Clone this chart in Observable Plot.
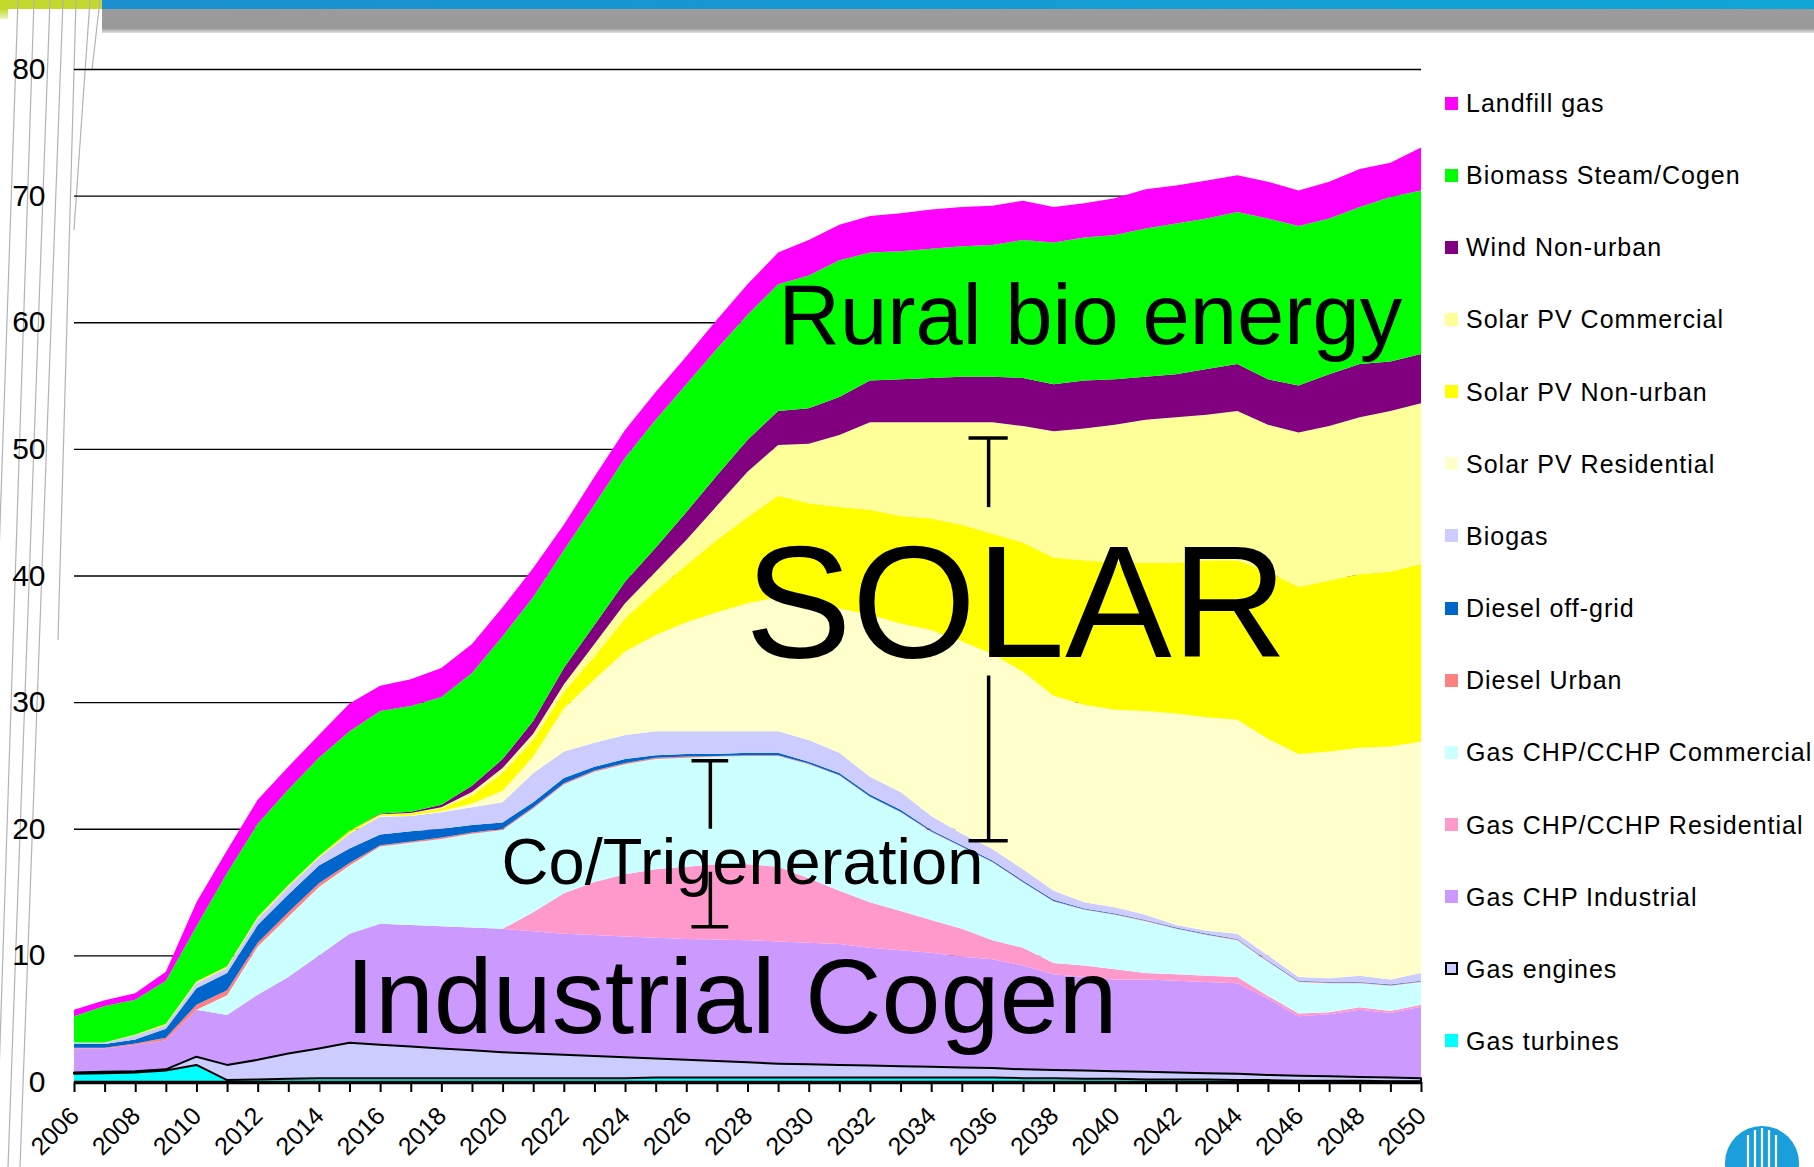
<!DOCTYPE html>
<html><head><meta charset="utf-8">
<script src="https://cdn.jsdelivr.net/npm/d3@7"></script>
<script src="https://cdn.jsdelivr.net/npm/@observablehq/plot@0.6"></script>
<style>
body{margin:0;background:#fff;}
#wrap{position:relative;width:1814px;height:1167px;overflow:hidden;background:#fff;font-family:"Liberation Sans",Arial,sans-serif;}
#deco{position:absolute;left:0;top:0;}
#chart{position:absolute;left:0;top:0;}
#legend{position:absolute;left:0;top:0;}
.item{position:absolute;left:1445px;height:30px;line-height:30px;font-size:25px;white-space:nowrap;color:#000;}
.sw{position:absolute;left:0;top:8.5px;width:13px;height:13px;box-sizing:border-box;}
.lab{position:absolute;left:21px;top:0;letter-spacing:1px;}
</style></head>
<body><div id="wrap">
<svg id="deco" width="1814" height="1167">
  <defs>
    <linearGradient id="blue" x1="0" x2="1" y1="0" y2="0"><stop offset="0" stop-color="#1b8fd0"/><stop offset="1" stop-color="#0fa6d6"/></linearGradient>
    <linearGradient id="grey" x1="0" x2="0" y1="0" y2="1"><stop offset="0" stop-color="#9c9c9c"/><stop offset="0.8" stop-color="#999"/><stop offset="1" stop-color="#e2e2e2"/></linearGradient>
    <linearGradient id="lime" x1="0" x2="0" y1="0" y2="1"><stop offset="0" stop-color="#c4da2c"/><stop offset="1" stop-color="#eef5c0"/></linearGradient>
    <clipPath id="logoclip"><circle cx="1762" cy="1163" r="37"/></clipPath>
  </defs>
  <rect x="102" y="0" width="1712" height="9" fill="url(#blue)"/>
  <rect x="102" y="9" width="1712" height="24" fill="url(#grey)"/>
  <rect x="0" y="0" width="102" height="9" fill="#c3d92b"/>
  <rect x="0" y="9" width="8" height="10" fill="url(#lime)"/>
  <g stroke="#b3b3b3" stroke-width="1.2" fill="none">
    <line x1="18" y1="0" x2="-22" y2="1167"/>
    <line x1="34" y1="0" x2="-4" y2="1167"/>
    <line x1="50" y1="0" x2="8" y2="1167"/>
    <line x1="63" y1="0" x2="20" y2="1167"/>
    <line x1="76" y1="0" x2="58" y2="640"/>
    <line x1="90" y1="0" x2="74" y2="230"/>
    <line x1="100" y1="0" x2="92" y2="70"/>
  </g>
  <circle cx="1762" cy="1163" r="37" fill="#1a9fdb"/>
  <g clip-path="url(#logoclip)" stroke="#fff" stroke-width="2.2">
    <line x1="1748" y1="1135" x2="1748" y2="1200"/>
    <line x1="1755" y1="1130" x2="1755" y2="1200"/>
    <line x1="1762" y1="1128" x2="1762" y2="1200"/>
    <line x1="1769" y1="1130" x2="1769" y2="1200"/>
    <line x1="1776" y1="1135" x2="1776" y2="1200"/>
  </g>
</svg>
<div id="chart"></div>
<div id="legend"></div>
</div>
<script>
// ---- data ----
const years = [2006,2007,2008,2009,2010,2011,2012,2013,2014,2015,2016,2017,2018,2019,2020,2021,2022,2023,2024,2025,2026,2027,2028,2029,2030,2031,2032,2033,2034,2035,2036,2037,2038,2039,2040,2041,2042,2043,2044,2045,2046,2047,2048,2049,2050];

// stacking order: bottom to top
const seriesNames = ["Gas turbines","Gas engines","Gas CHP Industrial","Gas CHP/CCHP Residential","Gas CHP/CCHP Commercial","Diesel Urban","Diesel off-grid","Biogas","Solar PV Residential","Solar PV Non-urban","Solar PV Commercial","Wind Non-urban","Biomass Steam/Cogen","Landfill gas"];
const seriesColors = ["#00ffff","#ccccff","#cc99ff","#ff99cc","#ccffff","#ff8080","#0066cc","#ccccff","#ffffcc","#ffff00","#ffff99","#800080","#00ff00","#ff00ff"];

const gasTurbines = [0.65,0.7,0.75,0.9,1.35,0.15,0.2,0.25,0.3,0.3,0.3,0.3,0.3,0.3,0.3,0.3,0.3,0.3,0.3,0.35,0.35,0.35,0.35,0.35,0.35,0.35,0.35,0.35,0.35,0.35,0.35,0.3,0.3,0.25,0.25,0.2,0.2,0.2,0.15,0.15,0.1,0.1,0.1,0.05,0.05];
const gasEngines = [0.1,0.1,0.1,0.1,0.65,1.2,1.55,2.0,2.35,2.8,2.65,2.5,2.35,2.2,2.05,1.95,1.85,1.75,1.65,1.5,1.4,1.3,1.2,1.1,1.05,1.0,0.95,0.9,0.85,0.8,0.75,0.7,0.65,0.65,0.6,0.6,0.55,0.5,0.5,0.4,0.4,0.35,0.3,0.3,0.25];
const gasChpIndustrial = [1.9,1.85,2.1,2.3,3.7,3.95,5.15,6.05,7.35,8.6,9.55,9.6,9.65,9.7,9.75,9.65,9.55,9.55,9.55,9.55,9.55,9.6,9.65,9.65,9.6,9.55,9.3,9.15,9.0,8.75,8.6,8.2,7.55,7.4,7.25,7.3,7.25,7.2,7.15,6.05,4.7,4.9,5.3,5.1,5.65];
const gasChpResidential = [0,0,0,0,0,0,0,0,0,0,0,0,0,0,0,1.5,3.2,4.2,4.9,5.4,5.7,5.95,6.0,5.9,5.1,4.2,3.6,3.1,2.6,2.2,1.5,1.4,0.9,0.9,0.8,0.5,0.5,0.5,0.5,0.2,0.2,0.15,0.2,0.15,0.15];
const gasChpCommercial = [0,0,0,0,0,1.55,3.8,4.75,5.4,5.4,6.1,6.5,6.9,7.4,7.8,8.2,8.6,8.7,8.7,8.7,8.6,8.5,8.55,8.75,9.0,9.1,8.3,7.8,6.95,6.45,6.15,5.15,4.85,4.4,4.3,4.1,3.6,3.2,2.9,2.7,2.5,2.3,1.9,2.0,1.8];
const dieselUrban = [0.05,0.05,0.1,0.2,0.4,0.4,0.3,0.35,0.3,0.2,0.1,0.1,0.1,0.1,0.1,0.1,0.1,0.1,0.1,0.1,0.1,0.05,0.05,0.05,0.05,0.05,0.05,0.05,0.05,0.05,0.05,0.05,0.05,0.05,0.05,0.05,0.05,0.05,0.05,0.05,0.05,0.05,0.05,0.05,0.05];
const dieselOffGrid = [0.3,0.3,0.3,0.7,1.3,1.35,1.4,1.4,1.4,1.15,0.85,0.8,0.7,0.6,0.5,0.4,0.4,0.3,0.3,0.2,0.2,0.15,0.2,0.2,0.15,0.15,0.15,0.15,0.1,0.1,0.1,0.1,0.1,0.05,0.05,0.05,0.05,0.05,0.05,0.05,0.05,0.05,0.05,0.05,0.05];
const biogas = [0.1,0.1,0.35,0.3,0.4,0.4,0.5,0.6,0.6,1.15,1.4,1.2,1.3,1.4,1.6,2.3,2.1,1.9,1.9,1.9,1.8,1.8,1.7,1.7,1.7,1.6,1.4,1.4,1.1,0.9,0.9,0.9,0.7,0.5,0.5,0.4,0.2,0.25,0.4,0.4,0.3,0.3,0.5,0.4,0.6];
const solarPvResidential = [0,0,0,0,0.05,0.05,0.05,0.05,0.05,0.05,0.05,0.05,0.1,0.3,0.9,1.3,3.4,5.0,6.6,7.6,8.6,9.4,10.1,10.6,10.6,11.4,12.8,13.3,14.7,15.2,15.4,15.6,15.4,15.6,15.6,16.1,16.7,16.85,16.9,17.1,17.6,17.9,18.0,18.4,18.3];
const solarPvNonUrban = [0.02,0.02,0.05,0.1,0.1,0.1,0.1,0.1,0.1,0.2,0.1,0.15,0.2,0.6,1.4,1.3,1.3,1.8,2.6,3.5,4.5,5.7,6.8,8.0,8.1,8.0,8.3,8.5,8.8,9.2,9.5,10.2,10.9,11.4,11.6,11.7,11.9,12.4,12.6,13.2,13.2,13.5,13.7,13.8,14.0];
const solarPvCommercial = [0,0,0,0,0,0,0,0,0,0,0.05,0.05,0.1,0.3,0.4,0.5,0.6,1.0,1.2,1.5,2.0,2.7,3.6,4.0,4.7,5.7,6.9,7.4,7.6,8.1,8.8,9.2,10.0,10.4,10.9,11.3,11.5,11.5,11.8,11.6,12.2,12.2,12.4,12.7,12.7];
const windNonUrban = [0,0,0,0,0,0,0,0,0,0,0.05,0.1,0.2,0.5,0.7,1.0,1.3,1.5,1.7,1.9,2.2,2.4,2.5,2.7,2.8,3.0,3.3,3.4,3.5,3.6,3.6,3.8,3.7,3.8,3.6,3.4,3.4,3.6,3.7,3.6,3.7,4.1,4.2,3.9,3.9];
const biomassSteamCogen = [2.08,2.88,2.75,3.4,4.35,7.35,7.35,7.55,7.75,7.85,8.1,8.35,8.5,8.9,9.7,9.8,9.3,9.5,9.8,10.1,10.1,10.0,9.9,10.0,10.5,10.8,10.1,10.1,10.2,10.3,10.4,10.9,11.2,11.3,11.4,11.7,11.9,11.9,12.0,12.7,12.6,12.3,12.4,13.0,12.9];
const landfillGas = [0.5,0.45,0.5,0.7,1.9,1.8,1.9,1.8,1.8,2.2,2.0,2.1,2.3,2.3,2.3,2.3,2.0,2.2,2.2,2.2,2.2,2.3,2.4,2.5,2.8,2.8,2.9,3.0,3.1,3.1,3.1,3.1,2.8,2.7,2.9,3.1,3.0,3.0,2.9,2.9,2.8,2.9,3.0,2.7,3.4];

const seriesValues = [gasTurbines,gasEngines,gasChpIndustrial,gasChpResidential,gasChpCommercial,dieselUrban,dieselOffGrid,biogas,solarPvResidential,solarPvNonUrban,solarPvCommercial,windNonUrban,biomassSteamCogen,landfillGas];

const yTicks = [0,10,20,30,40,50,60,70,80];
const xLabelYears = [2006,2008,2010,2012,2014,2016,2018,2020,2022,2024,2026,2028,2030,2032,2034,2036,2038,2040,2042,2044,2046,2048,2050];

const annotationLabels = ["Rural bio energy","SOLAR","Co/Trigeneration","Industrial Cogen"];
const annotationYears = [2029.0, 2027.9, 2019.95, 2014.85];
const annotationValues = [58.3, 33.6, 15.7, 3.9];
const annotationSizes = [85, 160, 65, 106];

const bracketYears = [2035.86, 2035.86, 2026.77, 2026.77];
const bracketFrom = [50.9, 32.1, 25.4, 16.6];
const bracketTo = [45.4, 19.1, 20.0, 12.3];
const bracketCapAt = [50.9, 19.1, 25.4, 12.3];
const bracketHalfWidth = [0.64, 0.64, 0.6, 0.6];

// ---- build table ----
const rows = [];
seriesNames.forEach((s, k) => seriesValues[k].forEach((v, i) => rows.push({year: years[i], series: s, value: v})));
const brackets = bracketYears.map((x, i) => ({x, y1: bracketFrom[i], y2: bracketTo[i], cap: bracketCapAt[i], hw: bracketHalfWidth[i]}));

const annotationMarks = annotationLabels.map((t, i) =>
  Plot.text([t], {x: () => annotationYears[i], y: () => annotationValues[i], text: d => d, fontSize: annotationSizes[i], textAnchor: "start", lineAnchor: "bottom", fill: "black"}));

const chart = Plot.plot({
  width: 1814, height: 1167,
  marginLeft: 74, marginRight: 393, marginTop: 69, marginBottom: 85,
  style: {background: "transparent", fontFamily: "'Liberation Sans', Arial, sans-serif", color: "black"},
  x: {domain: [2006, 2050], axis: null},
  y: {domain: [0, 80], axis: null},
  color: {domain: seriesNames, range: seriesColors},
  opacity: {type: "identity"},
  marks: [
    Plot.ruleY(yTicks.filter(d => d > 0), {stroke: "black", strokeWidth: 1.4}),
    Plot.areaY(rows, Plot.stackY({x: "year", y: "value", z: "series", fill: "series", order: null})),
    Plot.areaY(rows, Plot.stackY({x: "year", y: "value", z: "series", order: null, fill: "none", stroke: "black", strokeWidth: 2, strokeOpacity: d => d.series === "Gas engines" ? 1 : 0})),
    Plot.ruleY([0], {stroke: "black", strokeWidth: 3.5}),
    Plot.axisX({ticks: years, tickSize: 10, strokeWidth: 2, tickFormat: () => "", label: null}),
    Plot.text(xLabelYears, {x: d => d, text: d => String(d), frameAnchor: "bottom", rotate: -45, textAnchor: "end", lineAnchor: "bottom", dx: 6, dy: 35, fontSize: 25, fill: "black"}),
    Plot.axisY({ticks: yTicks, tickSize: 0, tickPadding: 29, fontSize: 30, label: null}),
    Plot.ruleX(brackets, {x: "x", y1: "y1", y2: "y2", stroke: "black", strokeWidth: 3.5}),
    Plot.ruleY(brackets, {y: "cap", x1: d => d.x - d.hw, x2: d => d.x + d.hw, stroke: "black", strokeWidth: 3.5}),
    ...annotationMarks
  ]
});
document.getElementById("chart").appendChild(chart);

// ---- legend (top of stack first) ----
const legend = document.getElementById("legend");
const legendOrder = seriesNames.map((s, k) => k).reverse();
legendOrder.forEach((k, i) => {
  const item = document.createElement("div");
  item.className = "item";
  item.style.top = (103 + i * 72.15 - 15) + "px";
  const sw = document.createElement("div");
  sw.className = "sw";
  sw.style.background = seriesColors[k];
  if (seriesNames[k] === "Gas engines") sw.style.border = "2.5px solid #000";
  const lab = document.createElement("span");
  lab.className = "lab";
  lab.textContent = seriesNames[k];
  item.appendChild(sw); item.appendChild(lab);
  legend.appendChild(item);
});
</script>
</body></html>
